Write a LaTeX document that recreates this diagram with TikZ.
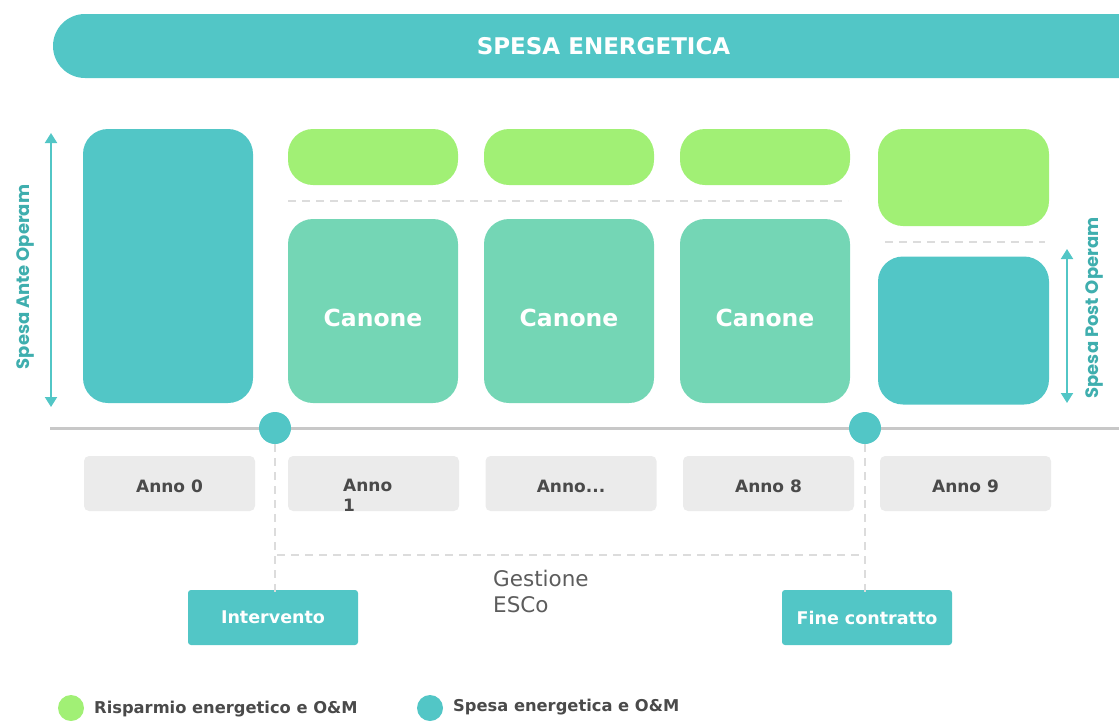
\documentclass[tikz,border=0pt]{standalone}
\usepackage{fontspec}
\setmainfont{DejaVu Sans}
\newfontfamily\popfont{Poppins}
\usetikzlibrary{arrows.meta,shapes.misc}
\definecolor{tealc}{HTML}{52C6C6}
\definecolor{greenc}{HTML}{A1F075}
\definecolor{mintc}{HTML}{74D6B5}
\definecolor{annoc}{HTML}{EBEBEB}
\definecolor{dashc}{HTML}{DCDCDC}
\definecolor{linec}{HTML}{C8C8C8}
\definecolor{textc}{HTML}{4A4A4A}
\definecolor{labc}{HTML}{3FAEAE}
\newcommand{\lowered}[2]{\raisebox{-#1}[0pt][0pt]{#2}}
\begin{document}
\begin{tikzpicture}[x=1pt,y=-1pt,
  bigbox/.style={rounded corners=25pt, inner sep=0pt, minimum width=170pt},
  tealbox/.style={bigbox, fill=tealc},
  greenbox/.style={bigbox, fill=greenc},
  mintbox/.style={bigbox, fill=mintc, text=white, font=\bfseries\fontsize{23.5}{27}\selectfont},
  annobox/.style={rounded corners=5pt, fill=annoc, inner sep=0pt, minimum width=171pt, minimum height=55pt, text=textc, font=\bfseries\fontsize{17}{20}\selectfont},
  evbox/.style={rounded corners=3pt, fill=tealc, inner sep=0pt, minimum width=170pt, minimum height=55pt, text=white, font=\bfseries\fontsize{17.5}{20}\selectfont},
  dot/.style={circle, fill=tealc, inner sep=0pt, minimum size=32pt},
  legdot/.style={circle, inner sep=0pt, minimum size=26pt},
  legtext/.style={anchor=west, inner sep=0pt, text=textc, font=\bfseries\fontsize{16.3}{19}\selectfont},
  sep/.style={draw=dashc, line width=2.5pt, dash pattern=on 8pt off 6pt},
  dimarrow/.style={draw=tealc, line width=2pt, {Triangle[width=12pt,length=10pt]}-{Triangle[width=12pt,length=10pt]}},
  sidelab/.style={rotate=90, text=labc, font=\popfont\bfseries\fontsize{18}{20}\selectfont}]
\useasboundingbox (0,0) rectangle (1119,721);

% top bar
\node[rounded rectangle, fill=tealc, minimum width=1101pt, minimum height=64pt, inner sep=0pt,
      text=white, font=\bfseries\fontsize{23}{26}\selectfont] (bar) at (603.5,46) {SPESA ENERGETICA};

% ante operam
\node[tealbox, minimum height=274pt] (ante) at (168,266) {};
\coordinate (aT) at (51,133);
\coordinate (aB) at (51,407);
\draw[dimarrow] (aT) -- (aB);
\node[sidelab] (antelab) at (25,277) {Spesa Ante Operam};

% green savings
\node[greenbox, minimum height=56pt] (g1) at (373,157) {};
\node[greenbox, minimum height=56pt] (g2) at (569,157) {};
\node[greenbox, minimum height=56pt] (g3) at (765,157) {};
\node[greenbox, minimum width=171pt, minimum height=97pt] (g4) at (963.5,177.5) {};

% canone
\node[mintbox, minimum height=184pt] (c1) at (373,311) {\lowered{15pt}{Canone}};
\node[mintbox, minimum height=184pt] (c2) at (569,311) {\lowered{15pt}{Canone}};
\node[mintbox, minimum height=184pt] (c3) at (765,311) {\lowered{15pt}{Canone}};

% post operam
\node[tealbox, minimum width=171pt, minimum height=148pt] (post) at (963.5,330.5) {};
\coordinate (pT) at (1067,249);
\coordinate (pB) at (1067,403);
\draw[dimarrow] (pT) -- (pB);
\node[sidelab] (postlab) at (1094,308) {Spesa Post Operam};

% separators
\coordinate (s1a) at (288,201);
\coordinate (s1b) at (848,201);
\draw[sep] (s1a) -- (s1b);
\coordinate (s2a) at (885,242);
\coordinate (s2b) at (1045,242);
\draw[sep] (s2a) -- (s2b);

% timeline
\coordinate (tl0) at (50,428);
\coordinate (tl1) at (1119,428);
\draw[linec, line width=3pt] (tl0) -- (tl1);
\node[dot] (d1) at (275,428) {};
\node[dot] (d2) at (865,428) {};

% anno boxes
\node[annobox] (a0) at (169.5,483.5) {\lowered{8.5pt}{Anno 0}};
\node[annobox] (a1) at (373.5,483.5) {};
\node[anchor=north west, align=left, inner sep=0pt, text=textc, font=\bfseries\fontsize{17}{20}\selectfont] (a1t) at (343,479) {Anno\\1};
\node[annobox] (a2) at (571,483.5) {\lowered{8.5pt}{Anno...}};
\node[annobox] (a8) at (768.5,483.5) {\lowered{8.5pt}{Anno 8}};
\node[annobox] (a9) at (965.5,483.5) {\lowered{8.5pt}{Anno 9}};

% events
\node[evbox] (interv) at (273,617.5) {Intervento};
\node[evbox] (fine) at (867,617.5) {Fine contratto};
\draw[sep] (d1.south) -- ([yshift=-8pt]interv.north -| d1.south);
\draw[sep] (d2.south) -- ([yshift=-8pt]fine.north -| d2.south);
\coordinate (h1) at (277,555);
\coordinate (h2) at (863,555);
\draw[sep] (h1) -- (h2);
\node[anchor=north west, align=left, inner sep=0pt, text=textc!90, font=\fontsize{21.5}{26}\selectfont] (gest) at (493,570) {Gestione\\ESCo};

% legend
\node[legdot, fill=greenc] (l1) at (71,708) {};
\node[legtext] (l1t) at (94,709) {Risparmio energetico e O\&M};
\node[legdot, fill=tealc] (l2) at (430,708) {};
\node[legtext] (l2t) at (453,707) {Spesa energetica e O\&M};
\end{tikzpicture}
\end{document}
